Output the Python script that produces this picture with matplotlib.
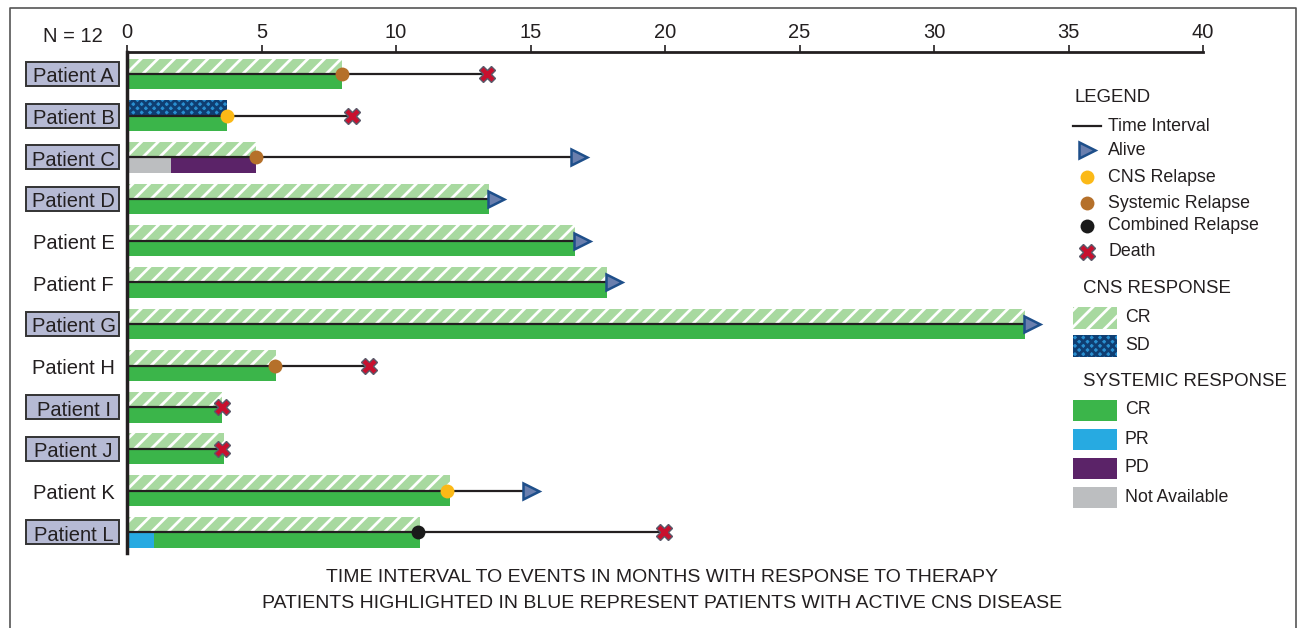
import matplotlib.pyplot as plt
from matplotlib.patches import Rectangle
from matplotlib.lines import Line2D

plt.rcParams['font.family'] = ['Liberation Sans', 'DejaVu Sans']
plt.rcParams['hatch.linewidth'] = 2.0

# data
patients = ["Patient A", "Patient B", "Patient C", "Patient D", "Patient E", "Patient F",
            "Patient G", "Patient H", "Patient I", "Patient J", "Patient K", "Patient L"]
highlighted = [True, True, True, True, False, False, True, False, True, True, False, True]
cns_response = ["CR", "SD", "CR", "CR", "CR", "CR", "CR", "CR", "CR", "CR", "CR", "CR"]
cns_end = [8.0, 3.7, 4.8, 13.45, 16.65, 17.85, 33.4, 5.55, 3.55, 3.6, 12.0, 10.9]
# systemic response segments: (response, start, end)
systemic = [
    [("CR", 0, 8.0)],
    [("CR", 0, 3.7)],
    [("NA", 0, 1.65), ("PD", 1.65, 4.8)],
    [("CR", 0, 13.45)],
    [("CR", 0, 16.65)],
    [("CR", 0, 17.85)],
    [("CR", 0, 33.4)],
    [("CR", 0, 5.55)],
    [("CR", 0, 3.55)],
    [("CR", 0, 3.6)],
    [("CR", 0, 12.0)],
    [("PR", 0, 1.0), ("CR", 1.0, 10.9)],
]
relapse_type = ["systemic", "cns", "systemic", None, None, None, None, "systemic", None, None, "cns", "combined"]
relapse_time = [8.0, 3.7, 4.8, None, None, None, None, 5.5, None, None, 11.9, 10.8]
outcome = ["death", "death", "alive", "alive", "alive", "alive", "alive", "death", "death", "death", "alive", "death"]
outcome_time = [13.4, 8.35, 16.8, 13.7, 16.9, 18.1, 33.65, 9.0, 3.55, 3.55, 15.0, 19.95]

sys_colors = {"CR": "#3bb54a", "PR": "#27aae1", "PD": "#5b2368", "NA": "#bcbec0"}
cns_face = {"CR": "#a8d9a0", "SD": "#2a8fd0"}
cns_hatch = {"CR": ("//", "white"), "SD": ("xxxx", "#0f3e72")}
relapse_colors = {"cns": "#fbb917", "systemic": "#b5702a", "combined": "#1a1a1a"}

W, H = 1299, 628
fig = plt.figure(figsize=(W / 100, H / 100), dpi=100)
ax = fig.add_axes([127 / W, 1 - 553 / H, (1203 - 127) / W, (553 - 52) / H])

bh = 0.37
for i, name in enumerate(patients):
    hatch, hc = cns_hatch[cns_response[i]]
    ax.barh(i - bh / 2, cns_end[i], height=bh, left=0, color=cns_face[cns_response[i]],
            edgecolor=hc, linewidth=0, hatch=hatch, zorder=2)
    for resp, s, e in systemic[i]:
        ax.barh(i + bh / 2, e - s, height=bh, left=s, color=sys_colors[resp],
                linewidth=0, zorder=2)
    ax.plot([0, outcome_time[i]], [i, i], color="#231f20", lw=1.6, zorder=3)
    if relapse_type[i] is not None:
        ax.plot(relapse_time[i], i, "o", ms=10, color=relapse_colors[relapse_type[i]],
                mec="none", zorder=4)
    if outcome[i] == "alive":
        ax.plot(outcome_time[i], i, ">", ms=12, mfc="#6a7fae", mec="#1e4f8a", mew=1.8, zorder=4)
    else:
        ax.plot(outcome_time[i], i, "X", ms=12, mfc="#c8102e", mec="#5a5a6a", mew=1.0, zorder=4)

    # patient labels
    if highlighted[i]:
        ax.add_patch(Rectangle((-0.0939, i - 0.29), 0.0864, 0.58,
                               transform=ax.get_yaxis_transform(), clip_on=False,
                               facecolor="#b6bad4", edgecolor="#333333", lw=1.4))
    ax.text(-0.0495, i + 0.02, name, transform=ax.get_yaxis_transform(), ha="center",
            va="center_baseline", fontsize=14.5, color="#231f20")

ax.set_xlim(0, 40)
ax.set_ylim(11.5, -0.53)
ax.set_xticks(range(0, 41, 5))
ax.xaxis.tick_top()
ax.tick_params(axis="x", direction="out", length=5, width=1.2, labelsize=14.5,
               colors="#231f20", pad=2.5)
ax.set_yticks([])
for s in ["right", "bottom"]:
    ax.spines[s].set_visible(False)
ax.spines["top"].set_linewidth(2)
ax.spines["left"].set_linewidth(2.5)
ax.spines["top"].set_color("#231f20")
ax.spines["left"].set_color("#231f20")


# legend drawn in figure pixels
def fx(x):
    return x / W


def fy(y):
    return 1 - y / H


tc = "#231f20"
fig.text(fx(103), fy(42.5), "N = 12", ha="right", va="baseline", fontsize=14.5, color=tc)

fs = 12.8
fig.text(fx(1075), fy(98), "LEGEND", fontsize=13.4, va="center", color=tc)
fig.add_artist(Line2D([fx(1073), fx(1101)], [fy(126), fy(126)], color=tc, lw=1.6))
fig.text(fx(1108), fy(126), "Time Interval", fontsize=fs, va="center", color=tc)
fig.add_artist(Line2D([fx(1087)], [fy(150)], marker=">", ms=12, mfc="#6a7fae", mec="#1e4f8a", mew=1.8))
fig.text(fx(1108), fy(150), "Alive", fontsize=fs, va="center", color=tc)
for y, lab, key in [(177, "CNS Relapse", "cns"), (203, "Systemic Relapse", "systemic"),
                    (226, "Combined Relapse", "combined")]:
    fig.add_artist(Line2D([fx(1087)], [fy(y)], marker="o", ms=10,
                          color=relapse_colors[key], mec="none"))
    fig.text(fx(1108), fy(y), lab, fontsize=fs, va="center", color=tc)
fig.add_artist(Line2D([fx(1087)], [fy(252)], marker="X", ms=12, mfc="#c8102e", mec="#5a5a6a", mew=1.0))
fig.text(fx(1108), fy(252), "Death", fontsize=fs, va="center", color=tc)

fig.text(fx(1083), fy(289), "CNS RESPONSE", fontsize=13.4, va="center", color=tc)
for y, lab in [(318, "CR"), (346, "SD")]:
    hatch, hc = cns_hatch[lab]
    fig.add_artist(Rectangle((fx(1073), fy(y + 11)), 44 / W, 22 / H, transform=fig.transFigure,
                             facecolor=cns_face[lab], edgecolor=hc, lw=0, hatch=hatch))
    fig.text(fx(1125), fy(y), lab, fontsize=fs, va="center", color=tc)

fig.text(fx(1083), fy(382), "SYSTEMIC RESPONSE", fontsize=13.4, va="center", color=tc)
for y, lab, key in [(410, "CR", "CR"), (439, "PR", "PR"), (468, "PD", "PD"), (497, "Not Available", "NA")]:
    fig.add_artist(Rectangle((fx(1073), fy(y + 10.5)), 44 / W, 21 / H, transform=fig.transFigure,
                             facecolor=sys_colors[key], lw=0))
    fig.text(fx(1125), fy(y), lab, fontsize=fs, va="center", color=tc)

fig.text(fx(662), fy(578), "TIME INTERVAL TO EVENTS IN MONTHS WITH RESPONSE TO THERAPY",
         ha="center", va="center", fontsize=14, color=tc)
fig.text(fx(662), fy(603), "PATIENTS HIGHLIGHTED IN BLUE REPRESENT PATIENTS WITH ACTIVE CNS DISEASE",
         ha="center", va="center", fontsize=14, color=tc)

# outer frame
fig.add_artist(Line2D([fx(9.5), fx(9.5), fx(1295.5), fx(1295.5)], [fy(640), fy(7.5), fy(7.5), fy(640)],
                      color="#555555", lw=1.2))

fig.savefig("out.png", dpi=100)
